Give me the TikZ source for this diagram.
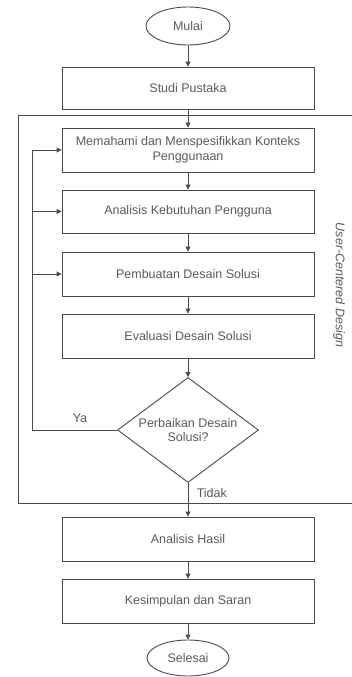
\documentclass[tikz,border=0pt]{standalone}
\usepackage{fontspec}
\setmainfont{Liberation Sans}
\usetikzlibrary{shapes.geometric,arrows.meta}
\definecolor{linec}{HTML}{4A4A4A}
\definecolor{textc}{HTML}{5A5A5A}
\begin{document}
\begin{tikzpicture}[x=1pt,y=-1pt,
  every node/.style={font=\fontsize{12.5}{14.5}\selectfont, text=textc},
  procbox/.style={draw=linec, line width=0.9pt, rectangle, minimum width=252pt, inner sep=0pt, align=center},
  term/.style={draw=linec, line width=0.9pt, ellipse, inner sep=0pt},
  decis/.style={draw=linec, line width=0.9pt, diamond, aspect=1.34, inner sep=0pt, minimum width=141pt, minimum height=105pt, align=center},
  conn/.style={draw=linec, line width=0.9pt, -{Triangle[length=5pt,width=5pt]}},
  plain/.style={draw=linec, line width=0.9pt}]
\useasboundingbox (0,0) rectangle (352,677);
\fill[white] (0,0) rectangle (352,677);

\node[term, minimum width=84pt, minimum height=38pt] (mulai) at (188,26) {Mulai};
\node[procbox, minimum height=42pt] (studi) at (188,88) {Studi Pustaka};
\node[procbox, minimum height=44pt] (memahami) at (188,150) {Memahami dan Menspesifikkan Konteks\\Penggunaan};
\node[procbox, minimum height=43pt] (analisis) at (188,211.5) {Analisis Kebutuhan Pengguna};
\node[procbox, minimum height=44pt] (pembuatan) at (188,274) {Pembuatan Desain Solusi};
\node[procbox, minimum height=44pt] (evaluasi) at (188,336) {Evaluasi Desain Solusi};
\node[decis] (perbaikan) at (188,430) {Perbaikan Desain\\Solusi?};
\node[procbox, minimum height=44pt] (hasil) at (188,539) {Analisis Hasil};
\node[procbox, minimum height=44pt] (kesimpulan) at (188,601) {Kesimpulan dan Saran};
\node[term, minimum width=82pt, minimum height=36pt] (selesai) at (188,658) {Selesai};

% User-Centered Design frame (open to the right edge)
\coordinate (ftr) at (352,115);
\coordinate (ftl) at (18,115);
\coordinate (fbl) at (18,503);
\coordinate (fbr) at (352,503);
\draw[plain] (ftr) -- (ftl) -- (fbl) -- (fbr);
\node[rotate=-90, font=\itshape\fontsize{12.5}{14.5}\selectfont] (ucd) at (339,285) {User-Centered Design};

% main flow
\draw[conn] (mulai) -- (studi);
\draw[conn] (studi) -- (memahami);
\draw[conn] (memahami) -- (analisis);
\draw[conn] (analisis) -- (pembuatan);
\draw[conn] (pembuatan) -- (evaluasi);
\draw[conn] (evaluasi) -- (perbaikan);
\draw[conn] (perbaikan) -- node[pos=0.3, right=5pt] (tidak) {Tidak} (hasil);
\draw[conn] (hasil) -- (kesimpulan);
\draw[conn] (kesimpulan) -- (selesai);

% loop back
\coordinate (lb) at (32,430);
\coordinate (l1) at (32,150);
\coordinate (l2) at (32,211.5);
\coordinate (l3) at (32,274);
\draw[plain] (perbaikan.west) -- (lb) -- (l1);
\draw[conn] (l1) -- (memahami.west);
\draw[conn] (l2) -- (analisis.west);
\draw[conn] (l3) -- (pembuatan.west);
\node (ya) at (80,418) {Ya};
\end{tikzpicture}
\end{document}
